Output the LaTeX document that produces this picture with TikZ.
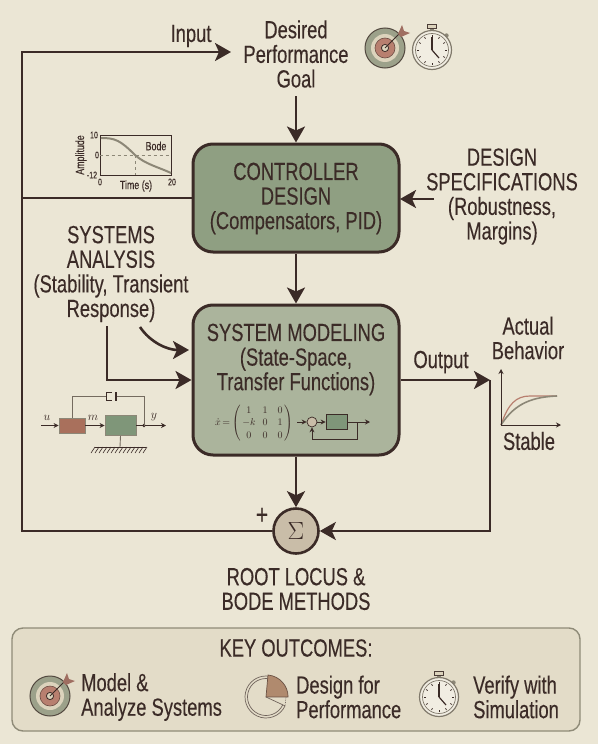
\documentclass[tikz,border=0pt]{standalone}
\usepackage{fontspec}
\setmainfont{Liberation Sans}[FakeStretch=0.74,FakeBold=0.25]
\usetikzlibrary{arrows.meta}
\definecolor{bgc}{HTML}{EBE6D5}
\definecolor{ink}{HTML}{3B2B27}
\definecolor{ctrlg}{HTML}{8F9F82}
\definecolor{sysg}{HTML}{ABB49C}
\definecolor{keyb}{HTML}{E3DCC8}
\definecolor{keyl}{HTML}{8F8B78}
\definecolor{brick}{HTML}{A9705C}
\definecolor{bgreen}{HTML}{7F9679}
\definecolor{ringg}{HTML}{9CA18A}
\definecolor{cream}{HTML}{DCD3BC}
\definecolor{rose}{HTML}{B87F6F}
\definecolor{tanc}{HTML}{B08A6E}
\definecolor{sumc}{HTML}{C9BDA8}
\definecolor{greyl}{HTML}{8C8777}
\newcommand{\bigtxt}{\fontsize{24.8}{24.6}\selectfont}
\newcommand{\smalltxt}{\fontsize{12}{12}\selectfont}
\newcommand{\ticky}{\fontsize{9.5}{10}\selectfont}
\tikzset{
  lbl/.style={text=ink,align=center,font=\bigtxt,inner sep=0pt},
  lbll/.style={text=ink,align=left,font=\bigtxt,inner sep=0pt,anchor=west},
  smalll/.style={text=ink,font=\smalltxt,inner sep=0pt},
  ticklbl/.style={text=ink,font=\ticky,inner sep=0pt},
  wire/.style={draw=ink,line width=2.6pt},
  arr/.style={draw=ink,line width=2.6pt,-{Stealth[length=16pt,width=18pt,inset=4pt]}},
  thinwire/.style={draw=ink,line width=0.9pt},
  thinarr/.style={draw=ink,line width=0.9pt,-{Stealth[length=5pt,width=5pt]}},
  blockbox/.style={draw=ink,line width=3pt,rounded corners=20pt,inner sep=0pt},
  targeticon/.pic={
    \fill[ringg,draw=ink!75!ringg,line width=1pt] (0,0) circle (20);
    \fill[cream] (0,0) circle (14);
    \fill[rose,draw=ink!60!rose,line width=.6pt] (0,0) circle (10);
    \fill[cream,draw=ink,line width=.8pt] (0,0) circle (3.6);
    \draw[ink,line width=.9pt] (0,0) -- (17,17);
    \fill[rose!80!ink] (13,14) -- (17,23) -- (19,17) -- (25,15) -- (16,11) -- cycle;
  },
  clockicon/.pic={
    \fill[greyl] (-2,19) rectangle (2,23);
    \fill[cream,draw=ink!80!greyl,line width=.8pt] (-4.5,22) rectangle (4.5,26);
    \fill[greyl] (14.5,14.5) circle (2.2);
    \draw[greyl!85!ink,line width=1.2pt,fill=bgc!70!white] (0,0) circle (19.5);
    \draw[greyl!85!ink,line width=.7pt] (0,0) circle (16.5);
    \foreach \a in {0,30,...,330} {\draw[ink,line width=.7pt] (\a:13) -- (\a:15);}
    \draw[ink,line width=1.2pt] (0,0) -- (0,13);
    \draw[ink,line width=1.2pt] (0,0) -- (7,-8);
  },
  pieicon/.pic={
    \draw[ink!70!bgc,line width=.7pt] (-25:21) arc[start angle=-25,end angle=-280,radius=21];
    \draw[ink!70!bgc,line width=.7pt] (-25:18.5) arc[start angle=-25,end angle=-280,radius=18.5];
    \fill[tanc,draw=ink!60!tanc,line width=.7pt] (0,0) -- (2,22) arc[start angle=85,end angle=0,radius=22] -- cycle;
    \draw[ink!70!bgc,line width=.7pt] (0,0) -- (-25:21);
    \draw[ink!70!bgc,line width=.7pt,densely dotted] (20,0) -- (-25:21);
  },
}
\begin{document}
\begin{tikzpicture}[x=1pt,y=1pt]
\useasboundingbox (0,0) rectangle (598,-744);
\fill[bgc] (0,0) rectangle (598,-744);

% Key outcomes panel
\node[name=keypanel,draw=keyl,fill=keyb,line width=1.4pt,rounded corners=11pt,minimum width=568pt,minimum height=103pt,inner sep=0pt] at (296,-679.5) {};
\node[lbl] (keytitle) at (296,-648) {KEY OUTCOMES:};
\pic at (50,-696) {targeticon};
\node[lbll] (k1) at (81,-697) {Model \&\\Analyze Systems};
\pic at (266,-697) {pieicon};
\node[lbll] (k2) at (296,-697) {Design for\\Performance};
\pic at (439,-697) {clockicon};
\node[lbll] (k3) at (473,-697) {Verify with\\Simulation};

% Main blocks
\node[blockbox,fill=ctrlg,minimum width=206pt,minimum height=108pt] (ctrl) at (296,-198) {};
\node[lbl] (ctrltext) at (296,-198.5) {CONTROLLER\\DESIGN\\(Compensators, PID)};
\node[blockbox,fill=sysg,minimum width=206pt,minimum height=150pt] (sys) at (296,-380) {};
\node[lbl] (systext) at (296,-359.5) {SYSTEM MODELING\\(State-Space,\\Transfer Functions)};
\node[name=sum,circle,draw=ink,fill=sumc,line width=2.6pt,minimum size=45pt,inner sep=0pt,text=ink,font=\fontsize{25}{25}\selectfont] at (296,-531) {$\Sigma$};

% Text labels
\node[lbl] (goal) at (296,-54) {Desired\\Performance\\Goal};
\node[lbl] (inputl) at (191,-36) {Input};
\node[lbl] (spec) at (502,-196.5) {DESIGN\\SPECIFICATIONS\\(Robustness,\\Margins)};
\node[lbl] (analysis) at (111,-274) {SYSTEMS\\ANALYSIS\\(Stability, Transient\\Response)};
\node[lbl] (outl) at (441,-362) {Output};
\node[lbl] (actual) at (528,-338) {Actual\\Behavior};
\node[lbl] (stable) at (529,-441) {Stable};
\node[lbl] (rootl) at (296,-589) {ROOT LOCUS \&\\BODE METHODS};
\node[text=ink,inner sep=0pt,font=\fontsize{28}{28}\selectfont] (plusl) at (262,-516) {+};

% Connector anchors
\coordinate (fbl) at (22,-531);
\coordinate (fbt) at (22,-52);
\coordinate (fbm) at (22,-198);
\coordinate (intip) at (231,-52);
\coordinate (goalfoot) at (296,-96);
\coordinate (specfoot) at (434,-199);
\coordinate (ctrlspec) at (400,-199);
\coordinate (outj) at (490,-380);
\coordinate (outb) at (490,-531);
\coordinate (a1) at (107,-326);
\coordinate (a2) at (107,-380);
\coordinate (b1) at (140,-327);
\coordinate (b2) at (189,-350);

% Connectors
\draw[arr] (sum.west) -- (fbl) -- (fbt) -- (intip);
\draw[wire] (ctrl.west) -- (fbm);
\draw[arr] (goalfoot) -- (ctrl.north);
\draw[arr] (ctrl.south) -- (sys.north);
\draw[arr] (sys.south) -- (sum.north);
\draw[arr] (specfoot) -- (ctrlspec);
\draw[arr] (sys.east) -- (outj);
\draw[arr] (outj) -- (outb) -- (sum.east);
\draw[arr] (a1) -- (a2) -- (sys.west);
\draw[arr] (b1) .. controls (150,-342) and (167,-350) .. (b2);

% Target and clock at the top
\pic at (385,-48) {targeticon};
\pic at (432,-50) {clockicon};

% Bode inset
\node[draw=ink,line width=.8pt,minimum width=71pt,minimum height=40pt,inner sep=0pt] (bodebox) at (135.5,-155) {};
\draw[greyl,line width=.7pt,dashed] (bodebox.west) -- (bodebox.east);
\draw[greyl,line width=.7pt,dashed] (135,-155) -- (135,-175);
\draw[greyl,line width=2pt] (101,-138) .. controls (115,-138) and (120,-140) .. (135,-155) .. controls (145,-164) and (158,-167) .. (171,-173);
\node[smalll] (bodel) at (156,-146) {Bode};
\node[smalll] (bodet) at (136,-186) {Time (s)};
\node[smalll,rotate=90] (bodea) at (81,-155) {Amplitude};
\node[ticklbl] (t1) at (94,-135) {10};
\node[ticklbl] (t2) at (97,-155) {0};
\node[ticklbl] (t3) at (92,-175) {-12};
\node[ticklbl] (t4) at (100,-182) {0};
\node[ticklbl] (t5) at (172,-182) {20};

% Mechanical block diagram
\node[draw=greyl,fill=brick,line width=.8pt,minimum width=26pt,minimum height=15pt,inner sep=0pt] (redb) at (72,-425.5) {};
\node[draw=greyl,fill=bgreen,line width=.8pt,minimum width=31pt,minimum height=20pt,inner sep=0pt] (greenb) at (120.5,-425.5) {};
\coordinate (min) at (41,-425.5);
\coordinate (mout) at (166,-425.5);
\coordinate (mdot) at (144,-425.5);
\coordinate (mtopl) at (72,-396);
\coordinate (mtopr) at (144,-396);
\coordinate (capl) at (106,-396);
\coordinate (capr) at (116,-396);
\coordinate (gnd) at (120,-447);
\draw[thinarr] (min) -- (redb.west);
\draw[thinarr] (redb.east) -- (greenb.west);
\draw[thinarr] (greenb.east) -- (mout);
\fill[ink] (mdot) circle (1.8);
\draw[thinwire,greyl!70!ink] (redb.north) -- (mtopl) -- (capl);
\draw[thinwire,greyl!70!ink] (capr) -- (mtopr) -- (mdot);
\draw[thinwire] (112,-392.5) -- (106,-392.5) -- (106,-400) -- (112,-400);
\draw[ink,line width=1.1pt] (116,-392) -- (116,-401);
\draw[thinwire,greyl!70!ink] (greenb.south) -- (gnd);
\draw[ink,line width=.8pt] (95,-447) -- (146,-447);
\foreach \h in {95,99,...,147} {\draw[ink,line width=.6pt] (\h,-447) -- (\h-4,-453);}
\node[text=ink,inner sep=0pt,font=\fontsize{12}{12}\selectfont] (ul) at (47,-418) {$u$};
\node[text=ink,inner sep=0pt,font=\fontsize{12}{12}\selectfont] (ml) at (93,-418) {$m$};
\node[text=ink,inner sep=0pt,font=\fontsize{12}{12}\selectfont] (yl) at (154,-417) {$y$};

% Equation in the modeling block
\node[text=ink,inner sep=0pt,font=\fontsize{10}{12.5}\selectfont] (eqn) at (254,-423) {$\dot{x}\,{=}\left(\begin{array}{@{\,}c@{\hspace{7pt}}c@{\hspace{10pt}}c@{\,}}1&1&0\\-k&0&1\\0&0&0\end{array}\right)$};
\node[circle,draw=ink,fill=sumc,line width=.7pt,minimum size=10pt,inner sep=0pt] (msum) at (312,-422) {};
\node[draw=ink,fill=bgreen,line width=.7pt,minimum width=21pt,minimum height=15pt,inner sep=0pt] (mblk) at (336.5,-422) {};
\coordinate (ein) at (297,-422);
\coordinate (eout) at (370,-422);
\coordinate (ej) at (357,-422);
\coordinate (ed) at (357,-439);
\coordinate (el) at (312,-439);
\draw[thinarr] (ein) -- (msum.west);
\draw[thinarr] (msum.east) -- (mblk.west);
\draw[thinarr] (mblk.east) -- (eout);
\draw[thinarr] (ej) -- (ed) -- (el) -- (msum.south);

% Step response sketch
\coordinate (po) at (501,-425);
\coordinate (py) at (501,-369);
\coordinate (px) at (561,-425);
\draw[rose,line width=1.2pt] (po) .. controls (508,-404) and (516,-396) .. (530,-396) -- (557,-396);
\draw[greyl,line width=1.6pt] (po) .. controls (512,-408) and (526,-397) .. (557,-396);
\draw[thinarr] (po) -- (py);
\draw[thinarr] (po) -- (px);
\end{tikzpicture}
\end{document}
